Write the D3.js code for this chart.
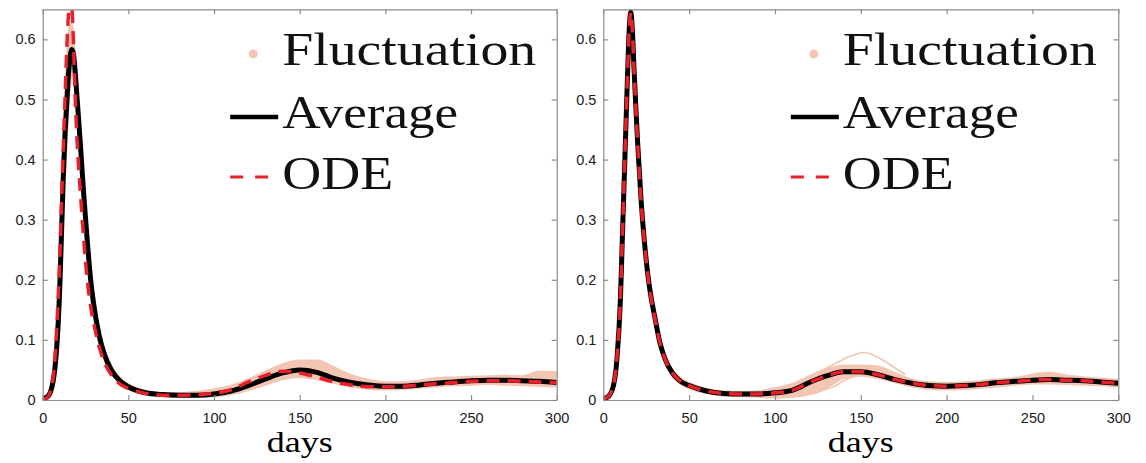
<!DOCTYPE html>
<html>
<head>
<meta charset="utf-8">
<script src="https://cdn.jsdelivr.net/npm/d3@7"></script>
<style>
body { margin: 0; background: #fff; }
svg { display: block; }
.tick text { font-family: "Liberation Sans", Arial, sans-serif; font-size: 14.5px; fill: #1a1a1a; }
</style>
</head>
<body>
<svg></svg>
<script>
// sampled days (denser around the first peak)
var days = [0,3,6,8,10,11,12,13,14,15,16,17,18,19,20,22,24,26,28,30,33,36,40,45,50,60,70,80,90,100,110,120,130,140,150,160,170,180,190,200,210,220,230,240,250,260,270,280,290,300]

// left panel
var leftAverage = [0.002,0.006,0.03,0.08,0.19,0.28,0.37,0.44,0.49,0.54,0.57,0.583,0.575,0.545,0.505,0.425,0.34,0.265,0.2,0.155,0.107,0.076,0.05,0.032,0.022,0.012,0.009,0.008,0.008,0.01,0.015,0.024,0.035,0.045,0.05,0.046,0.036,0.029,0.025,0.023,0.023,0.025,0.028,0.03,0.032,0.033,0.033,0.032,0.031,0.029]
var leftODE = [0.001,0.005,0.035,0.11,0.24,0.33,0.42,0.5,0.58,0.64,0.67,0.655,0.59,0.5,0.435,0.345,0.265,0.2,0.155,0.125,0.088,0.063,0.042,0.027,0.019,0.011,0.008,0.008,0.009,0.011,0.017,0.03,0.041,0.048,0.045,0.038,0.03,0.025,0.022,0.022,0.023,0.025,0.027,0.029,0.031,0.032,0.032,0.031,0.03,0.029]
var leftUpper = [0.004,0.01,0.045,0.12,0.26,0.35,0.44,0.51,0.57,0.61,0.625,0.625,0.61,0.57,0.53,0.45,0.36,0.285,0.215,0.168,0.117,0.086,0.058,0.038,0.027,0.016,0.012,0.012,0.014,0.018,0.024,0.035,0.048,0.06,0.066,0.066,0.055,0.042,0.034,0.03,0.03,0.033,0.037,0.038,0.039,0.04,0.041,0.04,0.048,0.047]
var leftLower = [0,0.003,0.018,0.05,0.13,0.2,0.28,0.36,0.42,0.48,0.52,0.54,0.54,0.52,0.48,0.4,0.31,0.235,0.17,0.135,0.09,0.065,0.044,0.028,0.018,0.009,0.006,0.005,0.005,0.006,0.009,0.016,0.025,0.034,0.038,0.034,0.028,0.022,0.018,0.017,0.018,0.02,0.022,0.024,0.025,0.026,0.025,0.024,0.023,0.022]

// right panel
var rightAverage = [0.002,0.006,0.025,0.07,0.17,0.26,0.35,0.44,0.53,0.61,0.645,0.612,0.545,0.485,0.428,0.333,0.262,0.207,0.168,0.138,0.095,0.068,0.046,0.031,0.024,0.015,0.011,0.01,0.01,0.012,0.016,0.029,0.04,0.047,0.047,0.042,0.034,0.028,0.024,0.023,0.024,0.026,0.029,0.031,0.033,0.034,0.033,0.032,0.03,0.028]
var rightODE = [0.002,0.006,0.026,0.072,0.172,0.262,0.352,0.442,0.532,0.612,0.645,0.61,0.543,0.483,0.426,0.331,0.261,0.206,0.167,0.137,0.095,0.068,0.046,0.031,0.024,0.015,0.011,0.01,0.01,0.012,0.016,0.029,0.04,0.047,0.047,0.042,0.034,0.028,0.024,0.023,0.024,0.026,0.029,0.031,0.033,0.034,0.033,0.032,0.03,0.028]
var rightUpper = [0.003,0.008,0.03,0.08,0.185,0.28,0.37,0.46,0.55,0.625,0.655,0.627,0.56,0.5,0.442,0.346,0.273,0.217,0.178,0.147,0.103,0.075,0.053,0.037,0.029,0.019,0.015,0.014,0.015,0.02,0.027,0.04,0.052,0.058,0.058,0.056,0.045,0.034,0.03,0.029,0.03,0.032,0.035,0.037,0.043,0.046,0.041,0.038,0.036,0.034]
var rightLower = [0.001,0.004,0.02,0.06,0.155,0.24,0.33,0.42,0.51,0.59,0.63,0.597,0.53,0.47,0.414,0.32,0.251,0.197,0.159,0.13,0.087,0.061,0.04,0.026,0.019,0.011,0.007,0.006,0.005,0.004,0.005,0.01,0.02,0.036,0.04,0.036,0.029,0.022,0.018,0.017,0.018,0.02,0.022,0.025,0.027,0.027,0.026,0.025,0.024,0.022]

// a few stray realisations in the right panel
var strayHighDays = [120,128,136,144,152,160,168,176]
var strayHigh = [0.04,0.05,0.062,0.073,0.079,0.071,0.057,0.042]
var strayLowDays = [90,100,110,120,128,134,142,150]
var strayLow = [0.005,0.004,0.005,0.009,0.016,0.022,0.035,0.043]

var xTicks = [0,50,100,150,200,250,300]
var yTicks = [0,0.1,0.2,0.3,0.4,0.5,0.6]
var legendLabels = ["Fluctuation","Average","ODE"]

var screen = {width:1146, height:463}
var svg = d3.select("svg").attr("width",screen.width).attr("height",screen.height)

var salmon = "#f3c5b3"
var red = "#e8202a"
var axisGrey = "#8c8c8c"

var yscale = d3.scaleLinear().domain([0,0.65]).range([400,9.3])

var drawPanel = function(id, x0, x1, avg, ode, upper, lower, strays)
{
    var xscale = d3.scaleLinear().domain([0,300]).range([x0,x1])
    var g = svg.append("g")

    g.append("clipPath").attr("id","clip"+id)
     .append("rect").attr("x",x0).attr("y",yscale(0.65)).attr("width",x1-x0).attr("height",yscale(0)-yscale(0.65))

    var plot = g.append("g").attr("clip-path","url(#clip"+id+")")

    var band = d3.area()
        .x(function(d,i){return xscale(days[i])})
        .y0(function(d,i){return yscale(lower[i])})
        .y1(function(d,i){return yscale(upper[i])})
        .curve(d3.curveMonotoneX)
    plot.append("path").datum(upper).attr("d",band).attr("fill",salmon)
        .attr("stroke",salmon).attr("stroke-width",1.5)

    strays.forEach(function(s){
        var l = d3.line().x(function(d,i){return xscale(s.days[i])}).y(function(d){return yscale(d)}).curve(d3.curveMonotoneX)
        plot.append("path").datum(s.vals).attr("d",l).attr("fill","none").attr("stroke",salmon).attr("stroke-width",1.6)
    })

    var line = d3.line()
        .x(function(d,i){return xscale(days[i])})
        .y(function(d){return yscale(d)})
        .curve(d3.curveMonotoneX)

    plot.append("path").datum(avg).attr("d",line).attr("fill","none")
        .attr("stroke","#000").attr("stroke-width",5).attr("stroke-linejoin","round")
    plot.append("path").datum(ode).attr("d",line).attr("fill","none")
        .attr("stroke",red).attr("stroke-width",3.5).attr("stroke-dasharray","13,8")

    // box with inward ticks
    g.append("g").attr("transform","translate(0,"+yscale(0)+")")
     .call(d3.axisBottom(xscale).tickValues(xTicks).tickSizeInner(-5).tickSizeOuter(0).tickPadding(13).tickFormat(d3.format("d")))
    g.append("g").attr("transform","translate(0,"+yscale(0.65)+")")
     .call(d3.axisTop(xscale).tickValues(xTicks).tickSizeInner(-5).tickSizeOuter(0).tickFormat(""))
    g.append("g").attr("transform","translate("+x0+",0)")
     .call(d3.axisLeft(yscale).tickValues(yTicks).tickSizeInner(-5).tickSizeOuter(0).tickPadding(7)
       .tickFormat(function(d){return d==0?"0":d3.format(".1f")(d)}))
    g.append("g").attr("transform","translate("+x1+",0)")
     .call(d3.axisRight(yscale).tickValues(yTicks).tickSizeInner(-5).tickSizeOuter(0).tickFormat(""))
    g.selectAll(".domain, .tick line").attr("stroke",axisGrey).attr("stroke-width",1.2)

    // x label
    g.append("text").attr("x",(x0+x1)/2).attr("y",452).attr("text-anchor","middle")
     .attr("font-family","'Liberation Serif', 'DejaVu Serif', serif").attr("font-size",29)
     .attr("textLength",66).attr("lengthAdjust","spacingAndGlyphs").text("days")

    // legend
    var lx = x0 + 239.5
    var baselines = [65,128,189]
    var widths = [254,176,111]
    legendLabels.forEach(function(lab,i){
        g.append("text").attr("x",lx).attr("y",baselines[i])
         .attr("font-family","'Liberation Serif', 'DejaVu Serif', serif").attr("font-size",46)
         .attr("textLength",widths[i]).attr("lengthAdjust","spacingAndGlyphs").attr("fill","#111").text(lab)
    })
    g.append("circle").attr("cx",lx-29).attr("cy",54).attr("r",4.5).attr("fill",salmon)
    g.append("line").attr("x1",lx-52).attr("x2",lx-4).attr("y1",117).attr("y2",117)
     .attr("stroke","#000").attr("stroke-width",4.5)
    g.append("line").attr("x1",lx-52).attr("x2",lx-4).attr("y1",177).attr("y2",177)
     .attr("stroke",red).attr("stroke-width",3).attr("stroke-dasharray","13,12")
}

drawPanel("L", 42.7, 556.7, leftAverage, leftODE, leftUpper, leftLower, [])
drawPanel("R", 603.3, 1118.3, rightAverage, rightODE, rightUpper, rightLower,
    [{days:strayHighDays, vals:strayHigh},{days:strayLowDays, vals:strayLow}])
</script>
</body>
</html>
